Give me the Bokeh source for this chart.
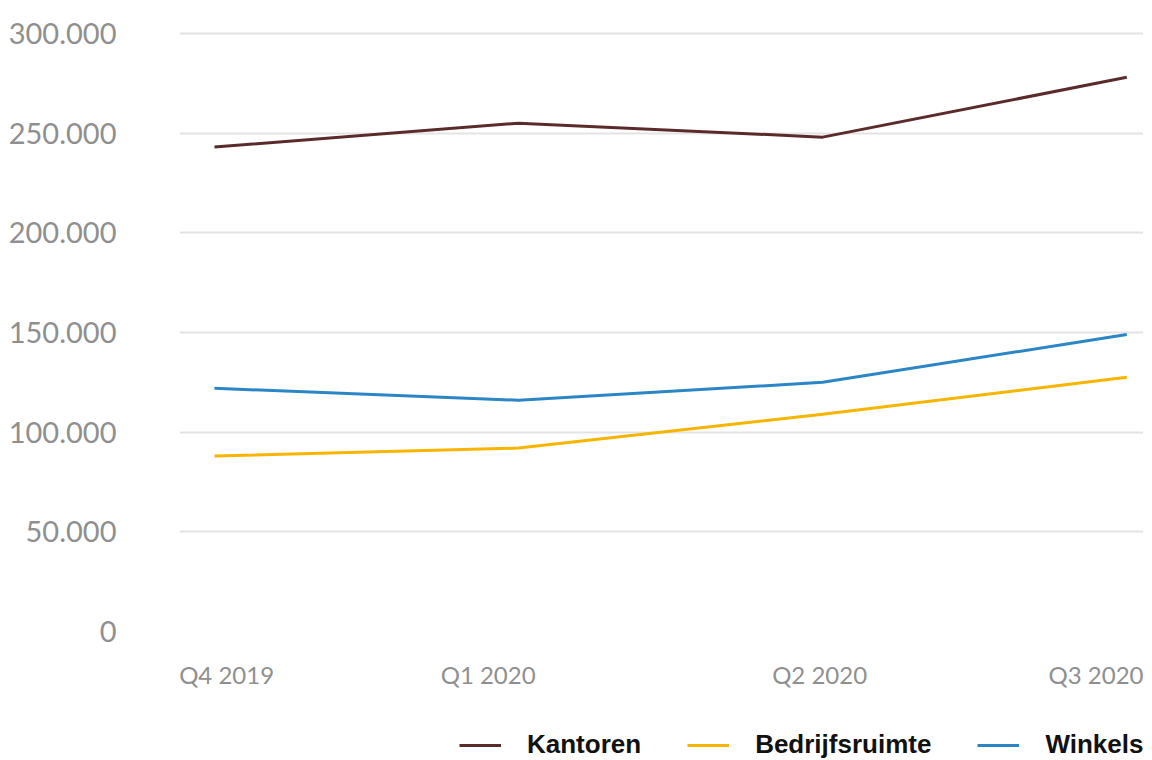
from bokeh.plotting import figure
from bokeh.models import Legend, LegendItem, FixedTicker, Range1d
from bokeh.layouts import column
from bokeh.embed import file_html
from bokeh.resources import INLINE

quarters = ["Q4 2019", "Q1 2020", "Q2 2020", "Q3 2020"]
x_pos = [0, 1, 2, 3]
kantoren = [243000, 255000, 248000, 278000]
bedrijfsruimte = [88000, 92000, 109000, 127500]
winkels = [122000, 116000, 125000, 149000]
label_pos = [0.04, 0.90, 1.99, 2.90]
y_ticks = [0, 50000, 100000, 150000, 200000, 250000, 300000]
y_labels = ["0", "50.000", "100.000", "150.000", "200.000", "250.000", "300.000"]
series_names = ["Kantoren", "Bedrijfsruimte", "Winkels"]
colors = ["#5b2b2b", "#f7b500", "#2b86c6"]

p = figure(frame_width=964, frame_height=602, output_backend="svg", toolbar_location=None,
           x_range=Range1d(-0.115, 3.055), y_range=Range1d(0, 302000),
           min_border_left=179, min_border_right=0, min_border_top=29, min_border_bottom=0)
p.outline_line_color = None
p.background_fill_color = "white"
p.border_fill_color = "white"

p.xgrid.grid_line_color = None
p.ygrid.grid_line_color = "#e3e3e3"
p.ygrid.grid_line_width = 2

p.yaxis.ticker = FixedTicker(ticks=y_ticks)
p.yaxis.major_label_overrides = {t: l for t, l in zip(y_ticks, y_labels)}
p.yaxis.axis_line_color = None
p.yaxis.major_tick_line_color = None
p.yaxis.minor_tick_line_color = None
p.yaxis.major_label_standoff = 57
p.yaxis.major_label_text_font = "Lato"
p.yaxis.major_label_text_font_size = "29px"
p.yaxis.major_label_text_color = "#8f8f8f"

p.xaxis.ticker = FixedTicker(ticks=label_pos)
p.xaxis.major_label_overrides = {t: l for t, l in zip(label_pos, quarters)}
p.xaxis.axis_line_color = None
p.xaxis.major_tick_line_color = None
p.xaxis.minor_tick_line_color = None
p.xaxis.major_label_standoff = 22
p.xaxis.major_label_text_font = "Lato"
p.xaxis.major_label_text_font_size = "24px"
p.xaxis.major_label_text_color = "#8f8f8f"

series = [kantoren, bedrijfsruimte, winkels]
for vals, col in zip(series, colors):
    p.line(x_pos, vals, line_color=col, line_width=3)

# legend strip below the chart (its lines lie outside its visible range)
p2 = figure(width=p.min_border_left + 964, height=71, output_backend="svg", toolbar_location=None,
            x_axis_location=None, y_axis_location=None,
            x_range=Range1d(0, 1), y_range=Range1d(0, 1),
            min_border_left=0, min_border_right=0, min_border_top=0, min_border_bottom=0)
p2.outline_line_color = None
p2.xgrid.visible = False
p2.ygrid.visible = False
items = []
for name, vals, col in zip(series_names, series, colors):
    r = p2.line(x_pos, vals, line_color=col, line_width=3)
    items.append(LegendItem(label=name, renderers=[r]))

legend = Legend(items=items, orientation="horizontal", location=(280, 2),
                glyph_width=42, glyph_height=20, label_standoff=26, spacing=46,
                padding=0, margin=0, border_line_color=None,
                label_text_font="Liberation Sans", label_text_font_style="bold",
                label_text_font_size="26px", label_text_color="#111111",
                background_fill_alpha=0)
p2.add_layout(legend)

layout = column(p, p2, spacing=0)
open("out.html", "w").write(file_html(layout, INLINE))
